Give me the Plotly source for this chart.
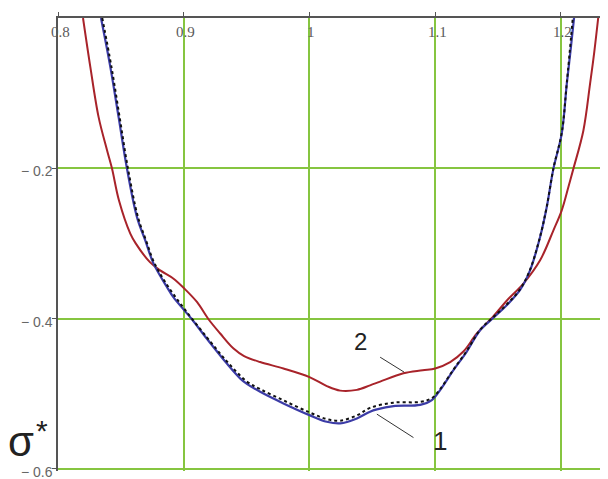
import plotly.graph_objects as go

# Curve 2 (red)
x_red = [0.8199, 0.8257, 0.8323, 0.8390, 0.8429, 0.8485, 0.8575, 0.8618, 0.8731, 0.8813,
         0.8919, 0.9004, 0.9105, 0.9197, 0.9290, 0.9396, 0.9480, 0.9608, 0.9793, 1.0000,
         1.0138, 1.0244, 1.0377, 1.0482, 1.0562, 1.0747, 1.0900, 1.1000, 1.1119, 1.1224,
         1.1331, 1.1463, 1.1570, 1.1701, 1.1834, 1.1940, 1.2006, 1.2059, 1.2099, 1.2178,
         1.2231, 1.2265, 1.2296]
y_red = [0.0, -0.065, -0.132, -0.176, -0.200, -0.243, -0.287, -0.300, -0.325, -0.336,
         -0.347, -0.360, -0.378, -0.401, -0.420, -0.440, -0.450, -0.458, -0.4665, -0.478,
         -0.490, -0.496, -0.495, -0.489, -0.484, -0.473, -0.469, -0.4665, -0.458, -0.444,
         -0.420, -0.397, -0.376, -0.3535, -0.3225, -0.2826, -0.256, -0.225, -0.2005, -0.150,
         -0.088, -0.045, 0.0]

# Curve 1 (blue, solid)
x_blue = [0.8342, 0.8416, 0.8482, 0.8548, 0.8628, 0.8694, 0.8760, 0.8866, 0.8919, 0.9004,
          0.9065, 0.9184, 0.9343, 0.9450, 0.9502, 0.9608, 0.9793, 1.0000, 1.0138, 1.0244,
          1.0377, 1.0482, 1.0536, 1.0668, 1.0880, 1.0973, 1.1039, 1.1145, 1.1251, 1.1357,
          1.1463, 1.1570, 1.1675, 1.1754, 1.1834, 1.1887, 1.1940, 1.2006, 1.2046, 1.2075,
          1.2104]
y_blue = [0.0, -0.065, -0.132, -0.200, -0.265, -0.296, -0.327, -0.358, -0.372, -0.389,
          -0.401, -0.427, -0.460, -0.480, -0.487, -0.4976, -0.513, -0.5286, -0.5375, -0.5396,
          -0.533, -0.524, -0.521, -0.5166, -0.515, -0.5086, -0.4953, -0.4688, -0.444, -0.4156,
          -0.399, -0.382, -0.362, -0.336, -0.2915, -0.2516, -0.2005, -0.154, -0.088, -0.045,
          0.0]

# Curve 1 (black dotted)
x_dot = [0.8352, 0.8425, 0.8490, 0.8556, 0.8636, 0.8700, 0.8766, 0.8870, 0.9004, 0.9184,
         0.9343, 0.9502, 0.9608, 0.9793, 1.0000, 1.0138, 1.0244, 1.0377, 1.0482, 1.0668,
         1.0880, 1.0973, 1.1039, 1.1145, 1.1251, 1.1357, 1.1463, 1.1570, 1.1675, 1.1754,
         1.1834, 1.1887, 1.1940, 1.2006, 1.2046, 1.2094]
y_dot = [0.0, -0.065, -0.132, -0.200, -0.265, -0.296, -0.326, -0.356, -0.387, -0.425,
         -0.457, -0.484, -0.494, -0.509, -0.525, -0.534, -0.536, -0.529, -0.519, -0.512,
         -0.511, -0.506, -0.494, -0.468, -0.443, -0.415, -0.398, -0.381, -0.361, -0.335,
         -0.291, -0.251, -0.200, -0.153, -0.087, 0.0]

x_ticks = [0.8, 0.9, 1.0, 1.1, 1.2]
x_tick_labels = ["0.8", "0.9", "1", "1.1", "1.2"]
y_ticks = [-0.2, -0.4, -0.6]
y_tick_labels = ["\u2212 0.2", "\u2212 0.4", "\u2212 0.6"]

GRID = "#86c540"
AXIS = "#555555"

fig = go.Figure()
fig.add_trace(go.Scatter(x=x_red, y=y_red, mode="lines",
                         line=dict(color="#a8232a", width=2, shape="spline"),
                         showlegend=False, hoverinfo="skip"))
fig.add_trace(go.Scatter(x=x_blue, y=y_blue, mode="lines",
                         line=dict(color="#3b3ba6", width=2.2, shape="spline"),
                         showlegend=False, hoverinfo="skip"))
fig.add_trace(go.Scatter(x=x_dot, y=y_dot, mode="lines",
                         line=dict(color="#111111", width=2, dash="dot", shape="spline"),
                         showlegend=False, hoverinfo="skip"))

# tick labels
for v, t in zip(x_ticks, x_tick_labels):
    fig.add_annotation(x=v, y=0, xref="x", yref="y", text=t, showarrow=False,
                       xanchor="center", yanchor="middle", xshift=2, yshift=-14,
                       font=dict(family="Liberation Serif", size=15, color="#5a5a5a"))
for v, t in zip(y_ticks, y_tick_labels):
    fig.add_annotation(x=0, y=v, xref="paper", yref="y", text=t, showarrow=False,
                       xanchor="right", yanchor="middle", xshift=-3, yshift=-3,
                       font=dict(family="Liberation Sans", size=14, color="#666666"))

# curve labels with leader lines
fig.add_annotation(x=1.0407, y=-0.431, text="2", showarrow=False,
                   font=dict(family="Liberation Sans", size=24, color="#222222"))
fig.add_annotation(x=1.1039, y=-0.563, text="1", showarrow=False,
                   font=dict(family="Liberation Sans", size=26, color="#222222"))
fig.add_shape(type="line", x0=1.0562, y0=-0.4515, x1=1.0753, y1=-0.4714,
              line=dict(color="#333333", width=1))
fig.add_shape(type="line", x0=1.0536, y0=-0.5273, x1=1.0827, y1=-0.5585,
              line=dict(color="#333333", width=1))

# sigma label
fig.add_annotation(x=0, y=0, xref="paper", yref="paper", text="σ",
                   showarrow=False, xanchor="center", yanchor="middle",
                   xshift=-37, yshift=30,
                   font=dict(family="Liberation Sans", size=42, color="#222222"))
fig.add_annotation(x=0, y=0, xref="paper", yref="paper", text="*",
                   showarrow=False, xanchor="center", yanchor="middle",
                   xshift=-16, yshift=41,
                   font=dict(family="Liberation Sans", size=30, color="#222222"))

fig.update_xaxes(range=[0.8, 1.2374], tickvals=x_ticks, showticklabels=False,
                 side="top", showline=True, linecolor=AXIS, linewidth=1.5,
                 showgrid=True, gridcolor=GRID, gridwidth=2, zeroline=False,
                 ticks="outside", ticklen=4, tickcolor=AXIS)
fig.update_yaxes(range=[-0.603, 0], tickvals=y_ticks, showticklabels=False,
                 showline=True, linecolor=AXIS, linewidth=1.5,
                 showgrid=True, gridcolor=GRID, gridwidth=2, zeroline=False,
                 ticks="outside", ticklen=4, tickcolor=AXIS)

fig.update_layout(width=600, height=471, margin=dict(l=50, r=0, t=10, b=8),
                  plot_bgcolor="white", paper_bgcolor="white")

fig.write_html("out.html")
